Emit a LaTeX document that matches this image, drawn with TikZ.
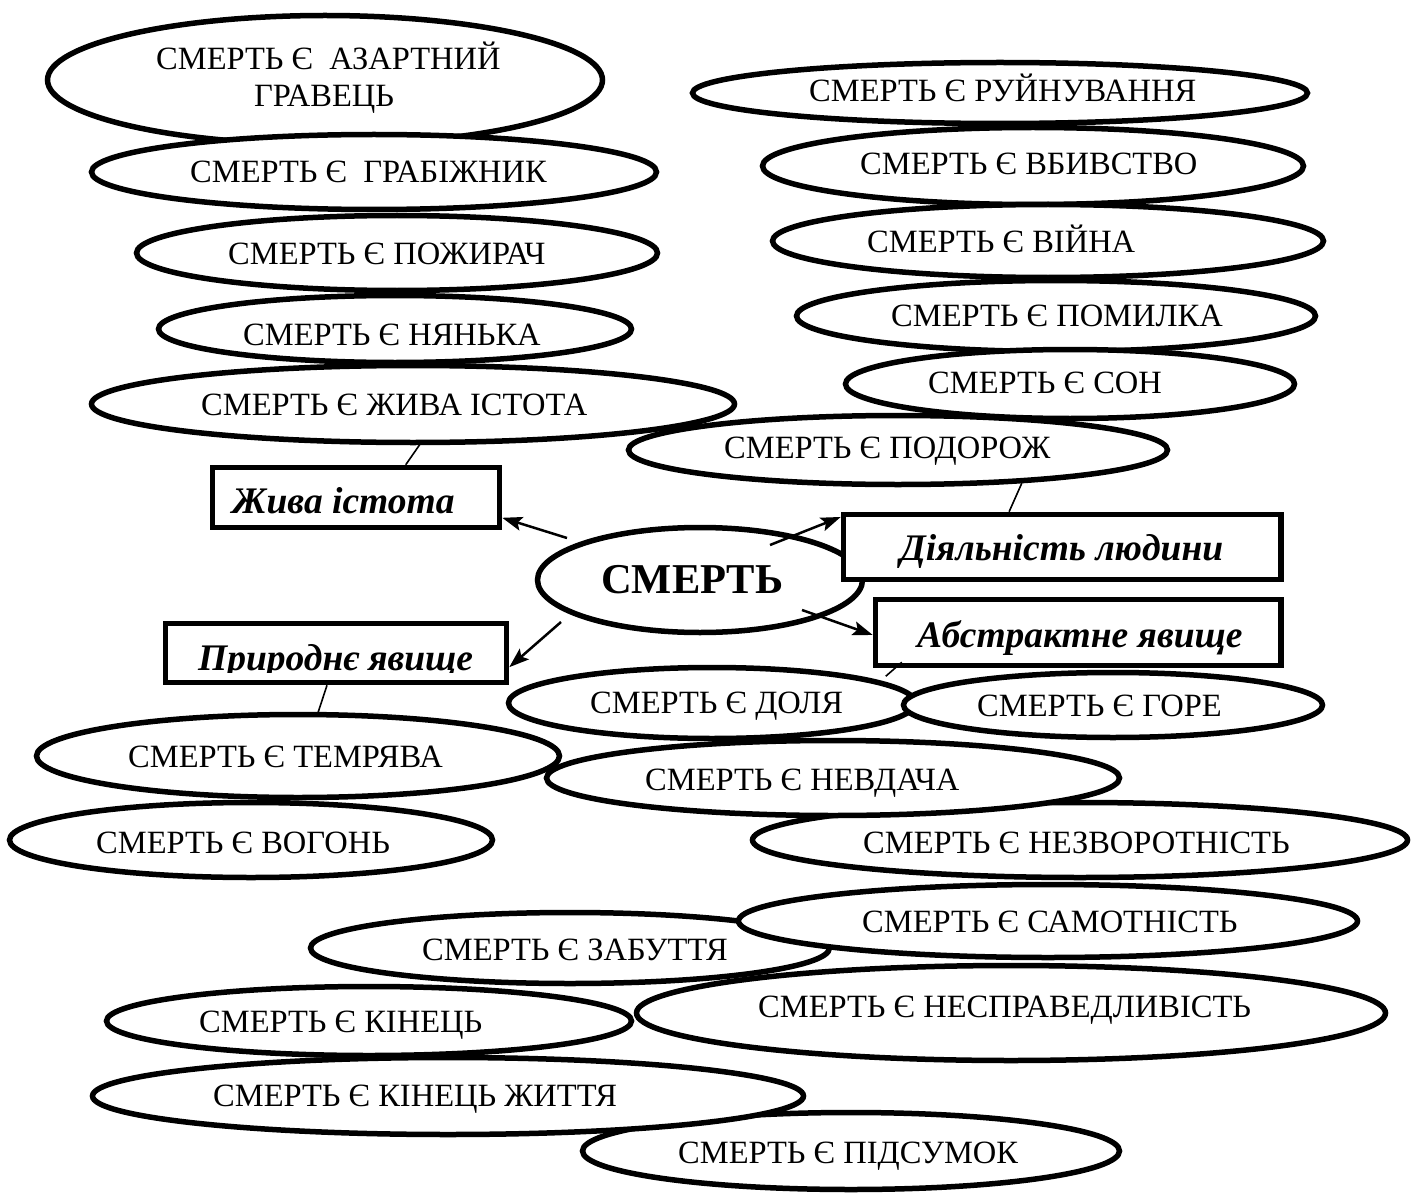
\documentclass[tikz,border=0pt]{standalone}
\usepackage{fontspec}
\setmainfont{Liberation Serif}
\usetikzlibrary{shapes.geometric,arrows.meta,calc}
\newcommand{\fsn}{\fontsize{32.5}{35}\selectfont}
\newcommand{\fsb}{\fontsize{37.5}{40}\selectfont\bfseries\itshape}
\newcommand{\fsc}{\fontsize{42.5}{45}\selectfont\bfseries}
\begin{document}
\begin{tikzpicture}[x=1pt,y=-1pt,
  oval/.style={ellipse,draw,fill=white,line width=5.5pt,inner sep=0pt},
  txt/.style={anchor=base west,inner sep=0pt,font=\fsn},
  box/.style={draw,fill=white,line width=5.5pt,inner sep=0pt},
  btxt/.style={anchor=base west,inner sep=0pt,font=\fsb},
  arr/.style={line width=2.5pt,-{Stealth[length=20pt,width=14pt,inset=4pt]}},
  thinline/.style={line width=1.6pt}]
\useasboundingbox (0,0) rectangle (1411,1193);

% left column
\node[oval,minimum width=555,minimum height=129] (e1) at (325,80) {};
\node[txt] (t1a) at (156,70) {СМЕРТЬ Є\ \ АЗАРТНИЙ};
\node[txt] (t1b) at (254,107) {ГРАВЕЦЬ};
\node[oval,minimum width=565,minimum height=75] (e2) at (374,172) {};
\node[txt] (t2) at (190,183) {СМЕРТЬ Є\ \ ГРАБІЖНИК};
\node[oval,minimum width=521,minimum height=75] (e3) at (397,253) {};
\node[txt] (t3) at (228,265) {СМЕРТЬ Є ПОЖИРАЧ};
\node[oval,minimum width=473,minimum height=67] (e4) at (395,329) {};
\node[txt] (t4) at (243,345) {СМЕРТЬ Є НЯНЬКА};

% right column
\node[oval,minimum width=615,minimum height=61] (r1) at (1000,93) {};
\node[txt] (u1) at (809,102) {СМЕРТЬ Є РУЙНУВАННЯ};
\node[oval,minimum width=541,minimum height=77] (r2) at (1033,166) {};
\node[txt] (u2) at (860,175) {СМЕРТЬ Є ВБИВСТВО};
\node[oval,minimum width=551,minimum height=73] (r3) at (1048,241) {};
\node[txt] (u3) at (867,253) {СМЕРТЬ Є ВІЙНА};
\node[oval,minimum width=519,minimum height=71] (r4) at (1056,316) {};
\node[txt] (u4) at (891,326) {СМЕРТЬ Є ПОМИЛКА};
\node[oval,minimum width=449,minimum height=69] (r5) at (1070,384) {};
\node[txt] (u5) at (928,393) {СМЕРТЬ Є СОН};
\node[oval,minimum width=539,minimum height=69] (r6) at (898,450) {};
\node[txt] (u6) at (724,458) {СМЕРТЬ Є ПОДОРОЖ};

\node[oval,minimum width=643,minimum height=77] (e5) at (413,404) {};
\node[txt] (t5) at (201,415) {СМЕРТЬ Є ЖИВА ІСТОТА};

% centre
\node[oval,minimum width=325,minimum height=105] (ec) at (700,580) {};
\node[anchor=base west,inner sep=0pt,font=\fsc] (tc) at (601,593) {СМЕРТЬ};

% bottom ellipses
\node[oval,minimum width=655,minimum height=75] (nez) at (1080,840) {};
\node[txt] (tnez) at (863,853) {СМЕРТЬ Є НЕЗВОРОТНІСТЬ};
\node[oval,minimum width=573,minimum height=75] (nev) at (833,778) {};
\node[txt] (tnev) at (645,790) {СМЕРТЬ Є НЕВДАЧА};
\node[oval,minimum width=523,minimum height=83] (tem) at (298,756) {};
\node[txt] (ttem) at (128,767) {СМЕРТЬ Є ТЕМРЯВА};
\node[oval,minimum width=483,minimum height=75] (vog) at (251,840) {};
\node[txt] (tvog) at (96,853) {СМЕРТЬ Є ВОГОНЬ};
\node[oval,minimum width=407,minimum height=71] (dol) at (712,703) {};
\node[txt] (tdol) at (590,713) {СМЕРТЬ Є ДОЛЯ};
\node[oval,minimum width=419,minimum height=65] (gor) at (1113,705) {};
\node[txt] (tgor) at (977,716) {СМЕРТЬ Є ГОРЕ};
\node[oval,minimum width=519,minimum height=71] (zab) at (570,948) {};
\node[txt] (tzab) at (422,960) {СМЕРТЬ Є ЗАБУТТЯ};
\node[oval,minimum width=619,minimum height=73] (sam) at (1048,921) {};
\node[txt] (tsam) at (862,932) {СМЕРТЬ Є САМОТНІСТЬ};
\node[oval,minimum width=749,minimum height=95] (nes) at (1011,1013) {};
\node[txt] (tnes) at (758,1017) {СМЕРТЬ Є НЕСПРАВЕДЛИВІСТЬ};
\node[oval,minimum width=525,minimum height=69] (kin) at (369,1021) {};
\node[txt] (tkin) at (199,1032) {СМЕРТЬ Є КІНЕЦЬ};
\node[oval,minimum width=537,minimum height=77] (pid) at (851,1151) {};
\node[txt] (tpid) at (678,1163) {СМЕРТЬ Є ПІДСУМОК};
\node[oval,minimum width=711,minimum height=77] (kzh) at (448,1096) {};
\node[txt] (tkzh) at (213,1106) {СМЕРТЬ Є КІНЕЦЬ ЖИТТЯ};

% boxes
\node[box,minimum width=287,minimum height=60] (bzh) at (356,497.5) {};
\node[btxt] (tbzh) at (232,513) {Жива істота};
\node[box,minimum width=437.5,minimum height=65] (bdl) at (1062.25,547) {};
\node[btxt] (tbdl) at (900,560) {Діяльність людини};
\node[box,minimum width=405.5,minimum height=66] (bab) at (1078.25,632.5) {};
\node[btxt] (tbab) at (917,647) {Абстрактне явище};
\node[box,minimum width=341,minimum height=59] (bpr) at (336,653) {};
\begin{scope}
  \clip (160,600) rectangle (520,672);
  \node[btxt] (tbpr) at (198,670) {Природнє явище};
\end{scope}

% arrows
\coordinate (s1) at ($(ec)+(-133,-42)$);
\coordinate (s2) at ($(ec)+(70,-35)$);
\coordinate (s3) at ($(ec)+(102,30)$);
\coordinate (s4) at ($(ec)+(-139,42)$);
\draw[arr] (s1) -- ($(bzh.north east)!0.81!(bzh.south east)$);
\draw[arr] (s2) -- ($(bdl.north west)!0.074!(bdl.south west)$);
\draw[arr] (s3) -- ($(bab.north west)!0.535!(bab.south west)$);
\draw[arr] (s4) -- ($(bpr.north east)!0.72!(bpr.south east)$);

% thin connectors
\draw[thinline] ($(e5.south)+(7,-1)$) -- ($(bzh.north west)!0.67!(bzh.north east)$);
\draw[thinline] (r6.-15) -- ($(bdl.north west)!0.38!(bdl.north east)$);
\draw[thinline] ($(bab.south west)+(29,-6)$) -- ($(bab.south west)+(13,8)$);
\draw[thinline] ($(bpr.south west)!0.474!(bpr.south east)$) -- ($(tem.north)+(20,1)$);
\end{tikzpicture}
\end{document}
